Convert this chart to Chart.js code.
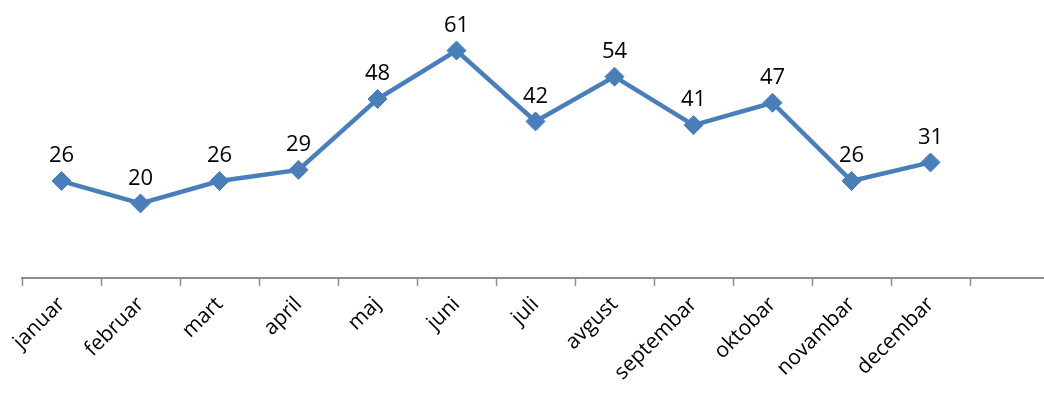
<!DOCTYPE html>
<html>
<head>
<meta charset="utf-8">
<script src="https://cdn.jsdelivr.net/npm/chart.js@4/dist/chart.umd.min.js"></script>
<style>
  html, body { margin: 0; padding: 0; background: #fff; overflow: hidden; }
  #wrap { width: 1060px; height: 394px; }
</style>
</head>
<body>
<div id="wrap"><canvas id="myChart"></canvas></div>
<script>
const months = ['januar', 'februar', 'mart', 'april', 'maj', 'juni', 'juli', 'avgust', 'septembar', 'oktobar', 'novambar', 'decembar', '']
const values = [26, 20, 26, 29, 48, 61, 42, 54, 41, 47, 26, 31]

const lineColor = '#4a7ebb'
const fontFamily = "'Open Sans', Lato, sans-serif"

// draw the value above each point
const valueLabels = {
  id: 'valueLabels',
  afterDatasetsDraw(chart) {
    const ctx = chart.ctx
    const meta = chart.getDatasetMeta(0)
    ctx.save()
    ctx.font = '22px ' + fontFamily
    ctx.fillStyle = '#000'
    ctx.textAlign = 'center'
    ctx.textBaseline = 'middle'
    meta.data.forEach((pt, i) => {
      ctx.fillText(values[i], pt.x, pt.y - 25)
    })
    ctx.restore()
  }
}

var ctx = document.getElementById('myChart').getContext('2d');
var myChart = new Chart(ctx, {
  type: 'line',
  data: {
    labels: months,
    datasets: [{
      data: values,
      borderColor: lineColor,
      backgroundColor: lineColor,
      borderWidth: 4.5,
      tension: 0,
      pointStyle: 'rectRot',
      pointRadius: 9.5,
      pointBackgroundColor: lineColor,
      pointBorderColor: lineColor,
      pointBorderWidth: 1
    }]
  },
  options: {
    responsive: true,
    maintainAspectRatio: false,
    animation: false,
    layout: { padding: { left: 22, top: 17, right: 11, bottom: 0 } },
    plugins: {
      legend: { display: false },
      tooltip: { enabled: false }
    },
    scales: {
      x: {
        offset: true,
        grid: {
          offset: true,
          drawOnChartArea: false,
          drawTicks: true,
          tickLength: 8,
          tickWidth: 1.5,
          tickColor: '#8c8c8c'
        },
        border: { display: true, color: '#8c8c8c', width: 2 },
        ticks: {
          minRotation: 45,
          maxRotation: 45,
          autoSkip: false,
          color: '#000',
          padding: 6,
          font: { family: fontFamily, size: 21 }
        },
        afterFit(scale) { scale.height = 116 }
      },
      y: {
        display: false,
        min: 0,
        max: 70
      }
    }
  },
  plugins: [valueLabels]
});
</script>
</body>
</html>
